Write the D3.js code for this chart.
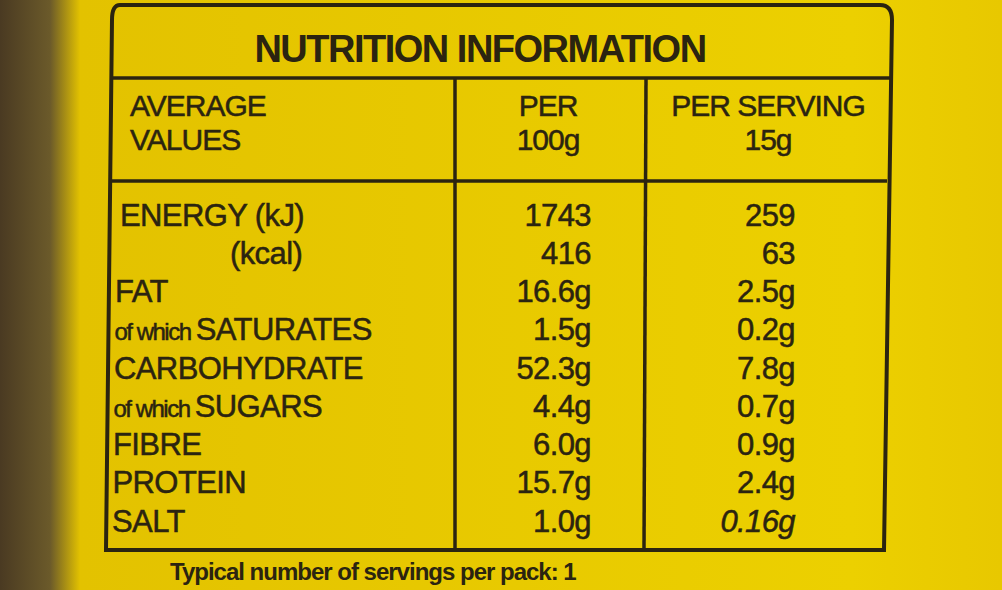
<!DOCTYPE html>
<html><head><meta charset="utf-8">
<script src="https://cdn.jsdelivr.net/npm/d3@7"></script>
<style>body{margin:0;background:#e6c400}svg{display:block}</style></head>
<body><svg id="c" width="1002" height="590"></svg>
<script>
const title = "NUTRITION INFORMATION";
const headers = [["AVERAGE","VALUES"],["PER","100g"],["PER SERVING","15g"]];
const nutrients = ["ENERGY (kJ)","(kcal)","FAT","of which|SATURATES","CARBOHYDRATE","of which|SUGARS","FIBRE","PROTEIN","SALT"];
const per100 = ["1743","416","16.6g","1.5g","52.3g","4.4g","6.0g","15.7g","1.0g"];
const perServing = ["259","63","2.5g","0.2g","7.8g","0.7g","0.9g","2.4g","0.16g"];
const footer = "Typical number of servings per pack: 1";

const svg = d3.select("#c");
const ink = "#2b2410";
const font = "Liberation Sans, Arial, sans-serif";
const g0 = svg.append("defs").append("linearGradient").attr("id","bg");
g0.append("stop").attr("offset","0").attr("stop-color","#4a3a22");
g0.append("stop").attr("offset","0.05").attr("stop-color","#6b5a2a");
g0.append("stop").attr("offset","0.08").attr("stop-color","#e3c200");
g0.append("stop").attr("offset","0.85").attr("stop-color","#ecd000");
g0.append("stop").attr("offset","1").attr("stop-color","#e8c800");
svg.append("rect").attr("width",1002).attr("height",590).attr("fill","url(#bg)");
svg.append("path").attr("d","M120,5 L880,5 Q892,5 892,20 L884,550 L106,550 L112,20 Q112,5 120,5Z")
  .attr("fill","none").attr("stroke",ink).attr("stroke-width",4);
const hline=(y,x1,x2)=>svg.append("line").attr("x1",x1).attr("x2",x2).attr("y1",y).attr("y2",y).attr("stroke",ink).attr("stroke-width",3.5);
hline(78,111,890); hline(181,109,887);
svg.append("line").attr("x1",455).attr("x2",455).attr("y1",78).attr("y2",550).attr("stroke",ink).attr("stroke-width",3.5);
svg.append("line").attr("x1",646).attr("x2",644).attr("y1",78).attr("y2",550).attr("stroke",ink).attr("stroke-width",3.5);

svg.append("text").attr("x",480).attr("y",62).attr("text-anchor","middle").attr("font-family",font)
  .attr("font-weight","bold").attr("font-size",38).attr("fill",ink).attr("letter-spacing",-1.5).text(title);

const hx=[[130,"start"],[548,"middle"],[768,"middle"]];
headers.forEach((h,i)=>h.forEach((t,j)=>svg.append("text").attr("x",hx[i][0]).attr("y",116+j*34)
  .attr("text-anchor",hx[i][1]).attr("font-family",font).attr("font-size",30).attr("fill",ink)
  .attr("stroke",ink).attr("stroke-width",0.5).attr("letter-spacing",-1).text(t)));

const y = d3.scaleBand().domain(d3.range(nutrients.length)).range([196,540]);
const rows = svg.selectAll("g.r").data(nutrients).join("g").attr("class","r")
  .attr("transform",(d,i)=>`translate(0,${y(i)+y.bandwidth()*0.78})`);
rows.each(function(d,i){
  const g=d3.select(this);
  const x = i===1?230:(i<2?120:116-i*0.5);
  const base = s=>s.attr("font-family",font).attr("fill",ink).attr("stroke",ink).attr("stroke-width",0.5).attr("letter-spacing",-0.6);
  const t=base(g.append("text").attr("x",x));
  if(d.includes("|")){const [a,b]=d.split("|");
    t.append("tspan").attr("font-size",24).attr("letter-spacing",-1.5).text(a+" ");
    t.append("tspan").attr("font-size",31).text(b);}
  else t.attr("font-size",31).text(d);
  base(g.append("text").attr("x",591).attr("text-anchor","end").attr("font-size",31)).text(per100[i]);
  base(g.append("text").attr("x",795).attr("text-anchor","end").attr("font-size",31))
    .attr("font-style",i===8?"italic":null).text(perServing[i]);
});
svg.append("text").attr("x",170).attr("y",580).attr("font-family",font).attr("font-weight","bold").attr("font-size",24).attr("fill",ink).attr("letter-spacing",-1).text(footer);
</script></body></html>
